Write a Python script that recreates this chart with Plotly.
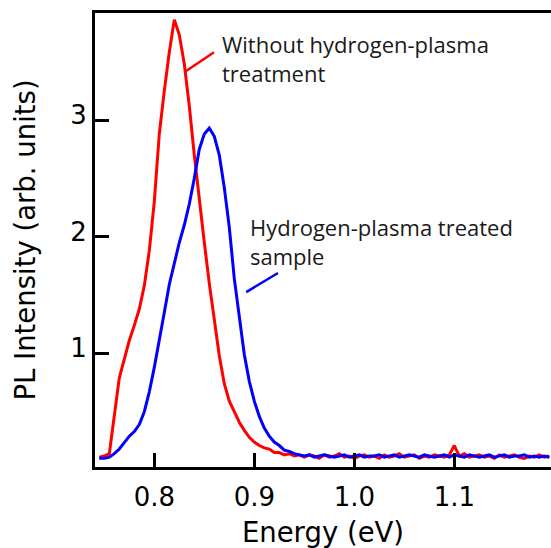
import plotly.graph_objects as go

energy = [
    0.745, 0.750, 0.755, 0.760, 0.765, 0.770, 0.775, 0.780, 0.785, 0.790,
    0.795, 0.800, 0.805, 0.810, 0.815, 0.820, 0.825, 0.830, 0.835, 0.840,
    0.845, 0.850, 0.855, 0.860, 0.865, 0.870, 0.875, 0.880, 0.885, 0.890,
    0.895, 0.900, 0.905, 0.910, 0.915, 0.920, 0.925, 0.930, 0.935, 0.940,
    0.945, 0.950, 0.955, 0.960, 0.965, 0.970, 0.975, 0.980, 0.985, 0.990,
    0.995, 1.000, 1.005, 1.010, 1.015, 1.020, 1.025, 1.030, 1.035, 1.040,
    1.045, 1.050, 1.055, 1.060, 1.065, 1.070, 1.075, 1.080, 1.085, 1.090,
    1.095, 1.100, 1.105, 1.110, 1.115, 1.120, 1.125, 1.130, 1.135, 1.140,
    1.145, 1.150, 1.155, 1.160, 1.165, 1.170, 1.175, 1.180, 1.185, 1.190,
    1.195,
]

untreated = [
    0.11, 0.12, 0.14, 0.46, 0.79, 0.95, 1.11, 1.24, 1.38, 1.58,
    1.88, 2.30, 2.88, 3.25, 3.58, 3.86, 3.73, 3.48, 3.12, 2.70,
    2.31, 1.95, 1.60, 1.27, 0.98, 0.74, 0.59, 0.50, 0.41, 0.34,
    0.28, 0.24, 0.21, 0.19, 0.18, 0.15, 0.15, 0.13, 0.14, 0.12,
    0.13, 0.11, 0.13, 0.12, 0.10, 0.13, 0.11, 0.12, 0.14, 0.11,
    0.12, 0.10, 0.12, 0.13, 0.11, 0.12, 0.10, 0.13, 0.11, 0.12,
    0.14, 0.11, 0.12, 0.13, 0.10, 0.12, 0.11, 0.13, 0.12, 0.11,
    0.13, 0.21, 0.12, 0.14, 0.11, 0.12, 0.13, 0.11, 0.12, 0.10,
    0.13, 0.11, 0.12, 0.13, 0.11, 0.10, 0.12, 0.11, 0.13, 0.11,
    0.12,
]

treated = [
    0.10, 0.10, 0.11, 0.14, 0.18, 0.24, 0.29, 0.33, 0.39, 0.50,
    0.67, 0.88, 1.10, 1.35, 1.59, 1.77, 1.95, 2.10, 2.28, 2.50,
    2.75, 2.88, 2.93, 2.86, 2.70, 2.42, 2.08, 1.64, 1.30, 0.99,
    0.76, 0.59, 0.46, 0.36, 0.29, 0.24, 0.21, 0.17, 0.16, 0.14,
    0.13, 0.12, 0.13, 0.11, 0.12, 0.13, 0.12, 0.11, 0.12, 0.13,
    0.11, 0.12, 0.13, 0.11, 0.12, 0.12, 0.13, 0.11, 0.12, 0.13,
    0.11, 0.12, 0.13, 0.12, 0.11, 0.13, 0.12, 0.11, 0.12, 0.13,
    0.11, 0.13, 0.12, 0.11, 0.13, 0.12, 0.11, 0.12, 0.13, 0.11,
    0.12, 0.13, 0.11, 0.12, 0.12, 0.13, 0.11, 0.12, 0.11, 0.12,
    0.11,
]

x_ticks = [0.8, 0.9, 1.0, 1.1]
x_tick_text = ["0.8", "0.9", "1.0", "1.1"]
y_ticks = [1, 2, 3]
y_tick_text = ["1", "2", "3"]

label_untreated = "Without hydrogen-plasma<br>treatment"
label_treated = "Hydrogen-plasma treated<br>sample"

fig = go.Figure()
fig.add_trace(go.Scatter(x=energy, y=untreated, mode="lines",
                         line=dict(color="#ff0000", width=3), showlegend=False))
fig.add_trace(go.Scatter(x=energy, y=treated, mode="lines",
                         line=dict(color="#0000ff", width=3), showlegend=False))

ann_font = dict(family="Open Sans", size=22, color="#1a1a1a")
fig.add_annotation(x=0.8657, y=3.80, xref="x", yref="y", text=label_untreated,
                   showarrow=False, xanchor="left", yanchor="top", align="left",
                   font=ann_font)
fig.add_annotation(x=0.8937, y=2.225, xref="x", yref="y", text=label_treated,
                   showarrow=False, xanchor="left", yanchor="top", align="left",
                   font=ann_font)
fig.add_shape(type="line", x0=0.8307, y0=3.413, x1=0.8597, y1=3.58,
              line=dict(color="#ff0000", width=2.5))
fig.add_shape(type="line", x0=0.8919, y0=1.525, x1=0.9237, y1=1.689,
              line=dict(color="#0000ff", width=2.5))

tick_font = dict(family="DejaVu Sans", size=26, color="black")
title_font = dict(family="DejaVu Sans", size=27.5, color="black")
fig.update_layout(
    width=551, height=548,
    margin=dict(l=95, r=0, t=13, b=81),
    plot_bgcolor="white", paper_bgcolor="white",
    xaxis=dict(range=[0.7407, 1.1967], tickvals=x_ticks, ticktext=x_tick_text,
               ticks="inside", ticklen=14, tickwidth=3, tickcolor="black",
               showline=True, linewidth=3, linecolor="black", mirror=True,
               showgrid=False, zeroline=False, tickfont=tick_font,
               ticklabelstandoff=5,
               title=dict(text="Energy (eV)", font=title_font, standoff=13)),
    yaxis=dict(range=[0.026, 3.917], tickvals=y_ticks, ticktext=y_tick_text,
               ticks="inside", ticklen=14, tickwidth=3, tickcolor="black",
               showline=True, linewidth=3, linecolor="black", mirror=False,
               showgrid=False, zeroline=False, tickfont=tick_font,
               ticklabelshift=-5,
               title=dict(text="PL Intensity (arb. units)", font=title_font, standoff=27)),
)

fig.write_html("out.html")
